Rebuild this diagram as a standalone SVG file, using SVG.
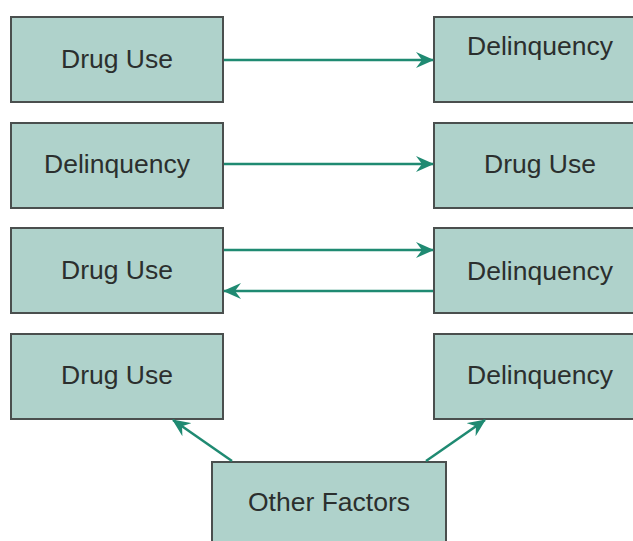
<svg xmlns="http://www.w3.org/2000/svg" width="633" height="541" viewBox="0 0 633 541">
<style>
.box{fill:#afd2cb;stroke:#4a4f4e;stroke-width:2}
.lbl{font-family:"Liberation Sans",Arial,sans-serif;font-size:26.5px;fill:#2b2f2e;text-anchor:middle}
.conn{stroke:#1f8a72;stroke-width:2.5;fill:none}
</style>
<defs>
<marker id="ah" viewBox="0 0 18 16" refX="17" refY="8" markerWidth="18" markerHeight="16" markerUnits="userSpaceOnUse" orient="auto">
<path d="M0,0 L18,8 L0,16 L6,8 Z" fill="#1f8a72"/>
</marker>
</defs>
<rect width="633" height="541" fill="#ffffff"/>
<g id="n1"><rect class="box" x="11" y="17" width="212" height="85"/><text class="lbl" x="117" y="68">Drug Use</text></g>
<g id="n2"><rect class="box" x="434" y="17" width="212" height="85"/><text class="lbl" x="540" y="55">Delinquency</text></g>
<g id="n3"><rect class="box" x="11" y="123" width="212" height="85"/><text class="lbl" x="117" y="173">Delinquency</text></g>
<g id="n4"><rect class="box" x="434" y="123" width="212" height="85"/><text class="lbl" x="540" y="173">Drug Use</text></g>
<g id="n5"><rect class="box" x="11" y="228" width="212" height="85"/><text class="lbl" x="117" y="279">Drug Use</text></g>
<g id="n6"><rect class="box" x="434" y="228" width="212" height="85"/><text class="lbl" x="540" y="280">Delinquency</text></g>
<g id="n7"><rect class="box" x="11" y="334" width="212" height="85"/><text class="lbl" x="117" y="384">Drug Use</text></g>
<g id="n8"><rect class="box" x="434" y="334" width="212" height="85"/><text class="lbl" x="540" y="384">Delinquency</text></g>
<g id="n9"><rect class="box" x="212" y="462" width="234" height="90"/><text class="lbl" x="329" y="511">Other Factors</text></g>
<g id="connectors">
<line class="conn" x1="224" y1="60" x2="433" y2="60" marker-end="url(#ah)"/>
<line class="conn" x1="224" y1="164" x2="433" y2="164" marker-end="url(#ah)"/>
<line class="conn" x1="224" y1="250" x2="433" y2="250" marker-end="url(#ah)"/>
<line class="conn" x1="433" y1="291" x2="224" y2="291" marker-end="url(#ah)"/>
<line class="conn" x1="232" y1="461" x2="173" y2="420" marker-end="url(#ah)"/>
<line class="conn" x1="426" y1="461" x2="485" y2="420" marker-end="url(#ah)"/>
</g>
</svg>
